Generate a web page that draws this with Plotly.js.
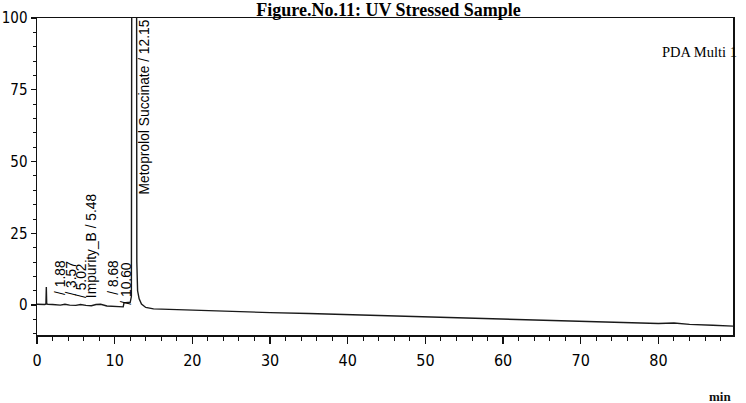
<!DOCTYPE html>
<html>
<head>
<meta charset="utf-8">
<script src="https://cdn.plot.ly/plotly-3.0.1.min.js"></script>
<style>
html,body{margin:0;padding:0;background:#fff;}
#chart{width:746px;height:403px;}
</style>
</head>
<body>
<div id="chart"></div>
<script>
// Retention time (min) and detector response
var timeMin = [0, 0.5, 1.0, 1.15, 1.2, 1.25, 1.4, 2.0, 3.0, 3.6, 4.2, 5.0, 5.6, 6.3, 7.0, 7.6, 8.2, 9.0, 9.8, 10.5, 11.1, 11.2, 12.0,
  12.15, 12.2, 12.5, 12.8, 12.85, 12.95, 13.15, 13.45, 14.0, 15.0, 17.0, 20.0, 25.0, 30.0, 35.0, 40.0, 45.0,
  50.0, 55.0, 60.0, 65.0, 70.0, 75.0, 80.0, 82.0, 84.0, 87.0, 89.6];
var response = [0.3, 0.2, 0.2, 0.4, 6.3, 0.4, 0.3, 0.2, 0.0, 0.3, 0.0, -0.1, 0.2, -0.1, -0.2, 0.2, 0.3, -0.3, -0.5, -0.6, -0.6, 0.8, 1.0,
  3.0, 120, 1200, 120, 15, 5.0, 2.2, 0.4, -0.8, -1.3, -1.5, -1.8, -2.1, -2.6, -2.9, -3.3, -3.8,
  -4.1, -4.6, -4.9, -5.4, -5.7, -6.2, -6.4, -6.2, -6.7, -7.0, -7.3];

// Peak labels: text, label time position, label base level
var peakLabels = ["/ 1.88", "/ 3.57", "/ 5.02", "Impurity_B / 5.48", "/ 8.68", "/ 10.60", "Metoprolol Succinate / 12.15"];
var labelTime = [3.0, 4.5, 5.7, 7.0, 9.8, 11.5, 13.9];
var labelBase = [2.8, 2.8, 1.7, 1.7, 2.8, -0.6, 38.0];

var xTickVals = [0, 10, 20, 30, 40, 50, 60, 70, 80];
var yTickVals = [0, 25, 50, 75, 100];

var ann = [];
for (var i = 0; i < peakLabels.length; i++) {
  ann.push({
    x: labelTime[i], y: labelBase[i], xref: 'x', yref: 'y',
    text: peakLabels[i], textangle: -90, showarrow: false,
    xanchor: 'center', yanchor: 'bottom',
    font: {family: 'Liberation Sans, Arial, sans-serif', size: 13.8, color: '#000'}
  });
}
ann.push({
  x: 1, y: 1, xref: 'paper', yref: 'paper', xanchor: 'right', yanchor: 'top',
  xshift: 6, yshift: -24, showarrow: false, text: 'PDA Multi 1',
  font: {family: 'Liberation Serif, Times New Roman, serif', size: 14.5, color: '#000'}
});
ann.push({
  x: 1, y: 0, xref: 'paper', yref: 'paper', xanchor: 'right', yanchor: 'top',
  xshift: 0, yshift: -52, showarrow: false, text: '<b>min</b>',
  font: {family: 'Liberation Serif, Times New Roman, serif', size: 13, color: '#111'}
});

var trace = {
  x: timeMin, y: response, type: 'scatter', mode: 'lines',
  line: {color: '#1a1a1a', width: 1.4}, hoverinfo: 'skip', cliponaxis: true
};

var axisFont = {family: 'Liberation Sans Narrow, DejaVu Sans Condensed, sans-serif', size: 16, color: '#000'};

var layout = {
  width: 746, height: 403,
  margin: {l: 37, r: 13, t: 18, b: 68},
  paper_bgcolor: '#fff', plot_bgcolor: '#fff',
  showlegend: false,
  title: {
    text: '<b>Figure.No.11: UV Stressed Sample</b>',
    font: {family: 'Liberation Serif, Times New Roman, serif', size: 18, color: '#000'},
    x: 0.505, xanchor: 'center', xref: 'paper',
    y: 0.975, yanchor: 'middle', yref: 'container'
  },
  xaxis: {
    range: [0, 89.6], showgrid: false, zeroline: false,
    showline: true, linecolor: '#111', linewidth: 1.5, mirror: true,
    ticks: 'outside', ticklen: 7, tickwidth: 1.3, tickcolor: '#111',
    tickvals: xTickVals, ticktext: xTickVals.map(String),
    tickfont: axisFont, ticklabelstandoff: 3,
    minor: {dtick: 2, ticks: 'outside', ticklen: 4, tickwidth: 1, tickcolor: '#111', showgrid: false}
  },
  yaxis: {
    range: [-10.4, 100], showgrid: false, zeroline: false,
    showline: true, linecolor: '#111', linewidth: 1.5, mirror: true,
    ticks: 'outside', ticklen: 5, tickwidth: 1.3, tickcolor: '#111',
    tickvals: yTickVals, ticktext: yTickVals.map(String),
    tickfont: {family: 'Liberation Sans Narrow, DejaVu Sans Condensed, sans-serif', size: 15, color: '#000'},
    minor: {dtick: 5, tick0: 0, ticks: 'outside', ticklen: 3, tickwidth: 1, tickcolor: '#111', showgrid: false}
  },
  annotations: ann
};

Plotly.newPlot('chart', [trace], layout, {staticPlot: true, displayModeBar: false});
</script>
</body>
</html>
